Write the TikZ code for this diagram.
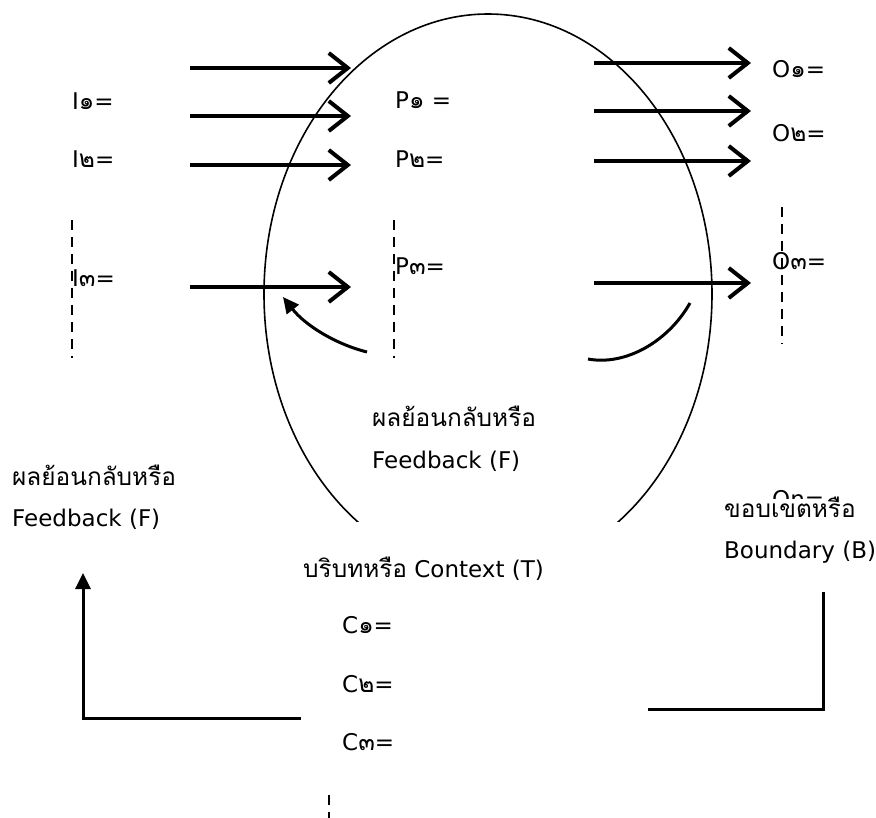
\documentclass[tikz,border=0pt]{standalone}
\usepackage{fontspec}
\setmainfont{DejaVu Sans}
\newfontfamily\thaifont[Script=Thai,Scale=1.06]{Loma}
\newcommand\thtxt[1]{{\thaifont #1}}
\usetikzlibrary{arrows.meta}
\tikzset{
  flowarrow/.style={line width=4pt, -{Straight Barb[length=19pt,width=30pt]}},
  backarrow/.style={line width=3pt, -{Triangle[length=16pt,width=15pt]}},
  dashline/.style={line width=2.5pt, dash pattern=on 10pt off 7pt},
  lbl/.style={anchor=base west, inner sep=0pt, font=\fontsize{23}{28}\selectfont},
  wbox/.style={fill=white, inner sep=0pt, anchor=north west},
}

\begin{document}
\begin{tikzpicture}[x=1pt,y=-1pt]
\useasboundingbox (0,0) rectangle (876,818);

\draw[line width=1.6pt] (488,294) ellipse [x radius=224pt, y radius=280pt];

\def\ina{190}
\def\inb{351}
\def\outa{594}
\def\outb{751}

\coordinate (in1a) at (\ina,68);  \coordinate (in1b) at (\inb,68);
\coordinate (in2a) at (\ina,116); \coordinate (in2b) at (\inb,116);
\coordinate (in3a) at (\ina,165); \coordinate (in3b) at (\inb,165);
\coordinate (in4a) at (\ina,287); \coordinate (in4b) at (\inb,287);
\draw[flowarrow] (in1a) -- (in1b);
\draw[flowarrow] (in2a) -- (in2b);
\draw[flowarrow] (in3a) -- (in3b);
\draw[flowarrow] (in4a) -- (in4b);

\coordinate (out1a) at (\outa,63);  \coordinate (out1b) at (\outb,63);
\coordinate (out2a) at (\outa,111); \coordinate (out2b) at (\outb,111);
\coordinate (out3a) at (\outa,161); \coordinate (out3b) at (\outb,161);
\coordinate (out4a) at (\outa,283); \coordinate (out4b) at (\outb,283);
\draw[flowarrow] (out1a) -- (out1b);
\draw[flowarrow] (out2a) -- (out2b);
\draw[flowarrow] (out3a) -- (out3b);
\draw[flowarrow] (out4a) -- (out4b);

\draw[dashline] (72,220) -- (72,358);
\draw[dashline] (394,220) -- (394,358);
\draw[dashline] (782,207) -- (782,344);
\draw[dashline] (329,795) -- (329,830);

\coordinate (fbl0) at (367,352);
\coordinate (fbl1) at (283,297);
\draw[backarrow] (fbl0) .. controls (335,344) and (305,325) .. (fbl1);
\coordinate (fbr0) at (690,303);
\coordinate (fbr1) at (588,359);
\draw[line width=3pt] (fbr0) .. controls (668,342) and (625,366) .. (fbr1);

\coordinate (lft0) at (302,718);
\coordinate (lft1) at (83,718);
\coordinate (lft2) at (83,573);
\draw[backarrow] (lft0) -- (lft1) -- (lft2);
\coordinate (rgt0) at (647,709);
\coordinate (rgt1) at (823,709);
\coordinate (rgt2) at (823,592);
\draw[line width=3pt] (rgt0) -- (rgt1) -- (rgt2);

\node[wbox, minimum width=347pt, minimum height=268pt] (ctxbox) at (301,522) {};

\node[lbl] (i1) at (72,110) {I\thtxt{๑}=};
\node[lbl] (i2) at (72,168) {I\thtxt{๒}=};
\node[lbl] (i3) at (72,287) {I\thtxt{๓}=};
\node[lbl] (p1) at (395,109) {P\thtxt{๑} =};
\node[lbl] (p2) at (395,168) {P\thtxt{๒}=};
\node[lbl] (p3) at (395,275) {P\thtxt{๓}=};
\node[lbl] (o1) at (772,78) {O\thtxt{๑}=};
\node[lbl] (o2) at (772,142) {O\thtxt{๒}=};
\node[lbl] (o3) at (772,270) {O\thtxt{๓}=};
\node[lbl] (on) at (772,507) {On=};

\node[wbox, minimum width=158pt, minimum height=70pt] (bndbox) at (718,499) {};
\node[lbl] (bnd1) at (724,517) {\thtxt{ขอบเขตหรือ}};
\node[lbl] (bnd2) at (724,558) {Boundary (B)};

\node[lbl] (fbm1) at (372,427) {\thtxt{ผลย้อนกลับหรือ}};
\node[lbl] (fbm2) at (372,468) {Feedback (F)};
\node[lbl] (fbo1) at (12,485) {\thtxt{ผลย้อนกลับหรือ}};
\node[lbl] (fbo2) at (12,526) {Feedback (F)};

\node[lbl] (ctx) at (303,577) {\thtxt{บริบทหรือ} Context (T)};
\node[lbl] (c1) at (342,633) {C\thtxt{๑}=};
\node[lbl] (c2) at (342,692) {C\thtxt{๒}=};
\node[lbl] (c3) at (342,750) {C\thtxt{๓}=};

\end{tikzpicture}
\end{document}
